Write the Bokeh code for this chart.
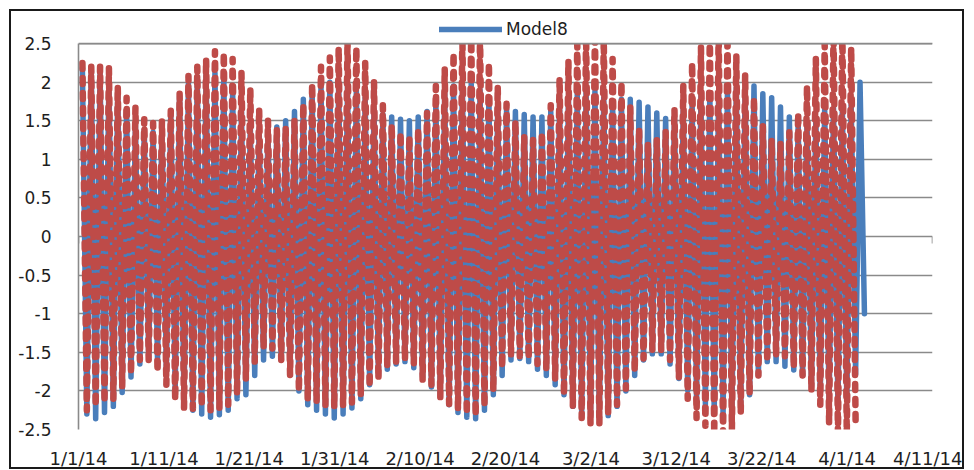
import pandas as pd
from bokeh.plotting import figure
from bokeh.models import (Range1d, FixedTicker, Legend, LegendItem, ColumnDataSource,
                          BoxAnnotation, Span)
from bokeh.embed import file_html
from bokeh.resources import INLINE

# ---------------- data ----------------
series_name = "Model8"
start_time = "2014-01-01 11:00"   # first daily high
cycle = "24h50min"                # one lunar day between successive daily extremes

# Model8 (blue): daily high / low water levels
model8_high = [2.18, 2.2, 2.15, 2.05, 1.9, 1.65, 1.45, 1.38, 1.35, 1.42,
               1.6, 1.82, 1.98, 2.05, 2.12, 2.12, 2.08, 1.9, 1.65, 1.45,
               1.4, 1.38, 1.42, 1.5, 1.62, 1.78, 1.88, 1.95, 2.0, 2.0,
               1.95, 1.9, 1.8, 1.65, 1.58, 1.55, 1.52, 1.5, 1.55, 1.62,
               1.75, 1.85, 1.95, 1.98, 1.98, 1.9, 1.8, 1.7, 1.65, 1.62,
               1.58, 1.55, 1.55, 1.62, 1.72, 1.8, 1.85, 1.88, 1.88, 1.8,
               1.75, 1.78, 1.78, 1.74, 1.68, 1.6, 1.53, 1.55, 1.65, 1.73,
               1.82, 1.85, 1.88, 1.9, 1.92, 1.92, 1.95, 1.85, 1.8, 1.68,
               1.55, 1.47, 1.48, 1.53, 1.66, 1.66, 1.69, 1.71, 2.0]
model8_low = [-2.3, -2.36, -2.28, -2.2, -2.02, -1.82, -1.65, -1.55, -1.6, -1.75,
              -1.98, -2.15, -2.25, -2.3, -2.34, -2.31, -2.25, -2.1, -2.05, -1.8,
              -1.6, -1.55, -1.6, -1.75, -2.0, -2.18, -2.25, -2.3, -2.35, -2.3,
              -2.22, -2.1, -1.92, -1.8, -1.72, -1.65, -1.62, -1.7, -1.82, -1.95,
              -2.05, -2.18, -2.28, -2.34, -2.36, -2.25, -2.05, -1.8, -1.6, -1.58,
              -1.62, -1.72, -1.8, -1.92, -2.05, -2.2, -2.28, -2.32, -2.35, -2.32,
              -2.2, -2.0, -1.8, -1.6, -1.52, -1.52, -1.65, -1.84, -1.99, -2.12,
              -2.18, -2.25, -2.3, -2.3, -2.2, -2.05, -1.8, -1.62, -1.62, -1.68,
              -1.73, -1.8, -1.95, -2.05, -2.15, -2.2, -2.1, -1.78, -1.0]

# second series (red, dashed, not in legend): daily high / low
other_high = [2.25, 2.2, 2.2, 2.18, 1.95, 1.8, 1.67, 1.52, 1.47, 1.5,
              1.63, 1.85, 2.08, 2.2, 2.3, 2.4, 2.38, 2.3, 2.12, 1.92,
              1.65, 1.5, 1.4, 1.42, 1.52, 1.72, 1.98, 2.2, 2.32, 2.45,
              2.55, 2.45, 2.25, 2.0, 1.7, 1.45, 1.35, 1.3, 1.4, 1.6,
              1.95, 2.18, 2.38, 2.6, 2.65, 2.6, 2.25, 1.95, 1.72, 1.5,
              1.3, 1.25, 1.35, 1.7, 2.05, 2.28, 2.5, 2.6, 2.65, 2.55,
              2.3, 2.0, 1.68, 1.4, 1.22, 1.25, 1.36, 1.65, 1.95, 2.25,
              2.45, 2.6, 2.65, 2.6, 2.35, 2.1, 1.8, 1.45, 1.25, 1.2,
              1.35, 1.6, 1.95, 2.3, 2.5, 2.65, 2.65, 2.45]
other_low = [-2.25, -2.2, -2.15, -2.1, -1.95, -1.78, -1.6, -1.6, -1.75, -1.92,
             -2.12, -2.22, -2.23, -2.2, -2.25, -2.22, -2.18, -2.05, -1.85, -1.62,
             -1.45, -1.45, -1.6, -1.8, -2.0, -2.12, -2.15, -2.2, -2.22, -2.2,
             -2.15, -2.05, -1.95, -1.85, -1.68, -1.62, -1.6, -1.65, -1.86, -1.92,
             -2.08, -2.17, -2.25, -2.3, -2.32, -2.2, -2.0, -1.7, -1.53, -1.55,
             -1.58, -1.65, -1.73, -1.85, -2.05, -2.2, -2.35, -2.44, -2.44, -2.3,
             -2.18, -1.97, -1.75, -1.58, -1.47, -1.47, -1.6, -1.84, -2.1, -2.35,
             -2.45, -2.55, -2.55, -2.5, -2.3, -2.05, -1.8, -1.62, -1.55, -1.55,
             -1.7, -1.8, -2.0, -2.18, -2.42, -2.55, -2.55, -2.4]

x_tick_labels = ["1/1/14", "1/11/14", "1/21/14", "1/31/14", "2/10/14", "2/20/14",
                 "3/2/14", "3/12/14", "3/22/14", "4/1/14", "4/11/14"]
y_ticks = [-2.5, -2.0, -1.5, -1.0, -0.5, 0.0, 0.5, 1.0, 1.5, 2.0, 2.5]
y_tick_labels = ["-2.5", "-2", "-1.5", "-1", "-0.5", "0", "0.5", "1", "1.5", "2", "2.5"]

# ---------------- styles / layout ----------------
BLUE = "#4A7EBB"
RED = "#BE4B48"
GRID = "#8A8A8A"
TEXT = "#1E1E1E"
FONT = "DejaVu Sans"
HEADROOM = 0.39   # extra space above the plot area (holds the legend)


def zigzag(highs, lows):
    t0 = pd.Timestamp(start_time)
    step = pd.Timedelta(cycle)
    ts, vs = [], []
    for i, h in enumerate(highs):
        ts.append(t0 + i * step)
        vs.append(h)
        if i < len(lows):
            ts.append(t0 + i * step + step / 2)
            vs.append(lows[i])
    return ColumnDataSource(dict(t=pd.DatetimeIndex(ts), v=vs))


tick_dates = pd.to_datetime(x_tick_labels, format="%m/%d/%y")
epoch = pd.Timestamp("1970-01-01")
tick_ms = [float((d - epoch) / pd.Timedelta("1ms")) for d in tick_dates]
y_min, y_max = y_ticks[0], y_ticks[-1]

p = figure(width=955, height=460, x_axis_type="datetime", output_backend="svg",
           toolbar_location=None,
           x_range=Range1d(tick_dates[0], tick_dates[-1]),
           y_range=Range1d(y_min, y_max + HEADROOM),
           min_border_left=67, min_border_right=34, min_border_top=2,
           min_border_bottom=39, margin=(9, 0, 0, 9))
p.styles = {"border": "2px solid #1a1a1a"}
p.outline_line_color = None
p.background_fill_color = "white"
p.border_fill_color = "white"

# x axis: labels only at the bottom
p.xaxis.ticker = FixedTicker(ticks=tick_ms)
p.xaxis.major_label_overrides = {ms: lbl for ms, lbl in zip(tick_ms, x_tick_labels)}
p.xaxis.axis_line_color = None
p.xaxis.major_tick_line_color = None
p.xaxis.minor_tick_line_color = None
p.xaxis.major_label_standoff = 12
p.xaxis.major_label_text_font = FONT
p.xaxis.major_label_text_font_size = "18px"
p.xaxis.major_label_text_color = TEXT
p.xgrid.grid_line_color = None

# y axis
p.yaxis.ticker = FixedTicker(ticks=y_ticks)
p.yaxis.bounds = (y_min, y_max)
p.yaxis.major_label_overrides = {v: lbl for v, lbl in zip(y_ticks, y_tick_labels)}
p.yaxis.axis_line_color = GRID
p.yaxis.axis_line_width = 1.6
p.yaxis.major_tick_line_color = None
p.yaxis.minor_tick_line_color = None
p.yaxis.major_label_standoff = 21
p.yaxis.major_label_text_font = FONT
p.yaxis.major_label_text_font_size = "17px"
p.yaxis.major_label_text_color = TEXT
p.ygrid.ticker = FixedTicker(ticks=y_ticks)
p.ygrid.grid_line_color = GRID
p.ygrid.grid_line_width = 1.6

# horizontal axis tick marks at y = 0 (only the last one stays visible)
p.segment(x0=list(tick_dates), y0=0, x1=list(tick_dates), y1=-0.09,
          line_color=GRID, line_width=1.6)

src_blue = zigzag(model8_high, model8_low)
src_red = zigzag(other_high, other_low)

r_blue = p.line("t", "v", source=src_blue, line_color=BLUE, line_width=5.5,
                line_join="round", line_cap="round")
r_red = p.line("t", "v", source=src_red, line_color=RED, line_width=6.5,
               line_dash="6 9", line_cap="round", line_join="round")

# mask anything above the top of the value axis, redraw its top gridline
p.add_layout(BoxAnnotation(bottom=y_max, fill_color="white", fill_alpha=1.0,
                           line_color=None))
p.add_layout(Span(location=y_max, dimension="width", line_color=GRID,
                  line_width=1.6))

legend = Legend(items=[LegendItem(label=series_name, renderers=[r_blue])],
                location=(361, 390), orientation="horizontal",
                border_line_color=None, background_fill_alpha=0,
                glyph_width=63, glyph_height=18, label_standoff=4,
                padding=0, margin=0, spacing=0,
                label_text_font=FONT, label_text_font_size="17px",
                label_text_color=TEXT)
p.add_layout(legend, "center")

open("out.html", "w").write(file_html(p, INLINE))
